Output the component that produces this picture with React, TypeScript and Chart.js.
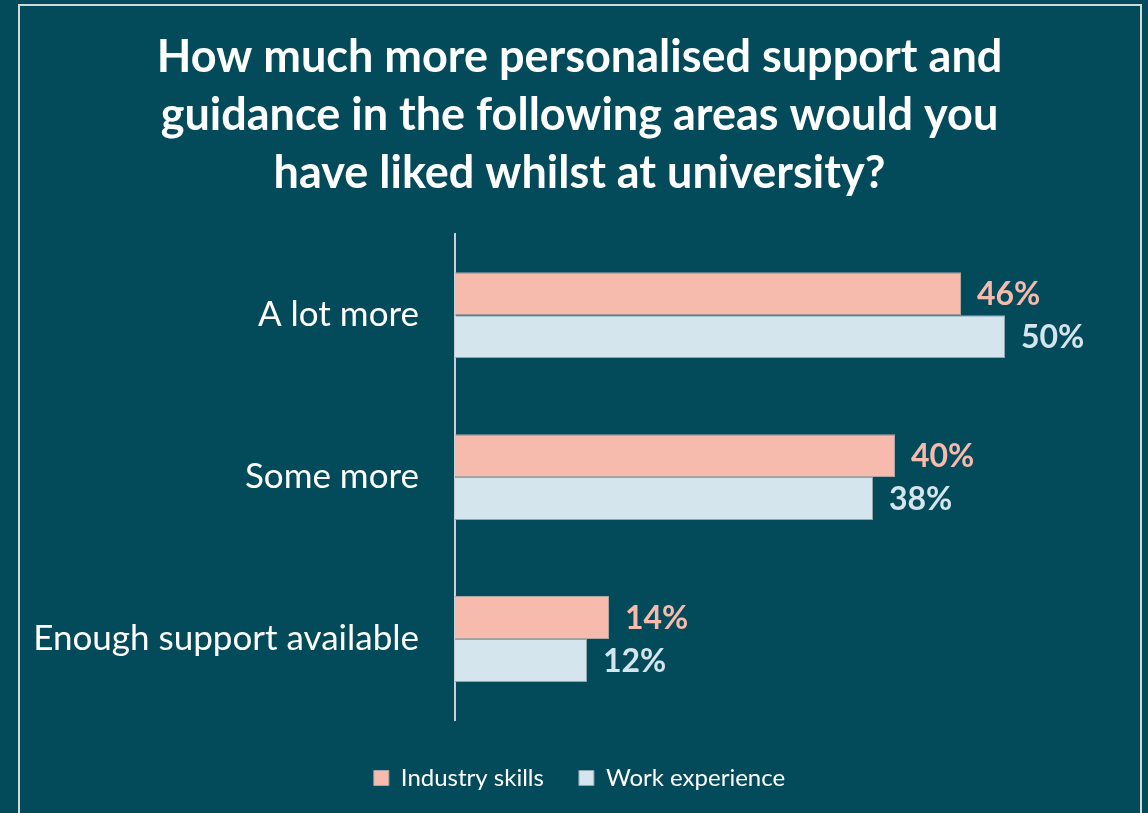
import React, { useEffect, useRef } from "react";
import { Chart, registerables } from "chart.js";

Chart.register(...registerables);

const categories = ["A lot more", "Some more", "Enough support available"];
const industrySkills = [46, 40, 14];
const workExperience = [50, 38, 12];
const seriesNames = ["Industry skills", "Work experience"];
const titleLines = [
  "How much more personalised support and",
  "guidance in the following areas would you",
  "have liked whilst at university?",
];

const BG = "#034A5A";
const PINK = "#F7BBAE";
const BLUE = "#D5E5ED";
const FONT = "Lato, 'Open Sans', sans-serif";

const valueLabels = {
  id: "valueLabels",
  afterDatasetsDraw(chart: any) {
    const ctx = chart.ctx;
    ctx.save();
    chart.data.datasets.forEach((ds: any, i: number) => {
      const meta = chart.getDatasetMeta(i);
      meta.data.forEach((bar: any, j: number) => {
        ctx.font = `bold 32px ${FONT}`;
        ctx.fillStyle = ds.labelColor;
        ctx.textAlign = "left";
        ctx.textBaseline = "middle";
        ctx.fillText(ds.data[j] + "%", bar.x + 16, bar.y + 1);
      });
    });
    ctx.restore();
  },
};

export default function App() {
  const ref = useRef<HTMLCanvasElement>(null);
  useEffect(() => {
    document.body.style.margin = "0";
    const chart = new Chart(ref.current!, {
      type: "bar",
      data: {
        labels: categories,
        datasets: [
          {
            label: seriesNames[0],
            data: industrySkills,
            backgroundColor: PINK,
            borderColor: "#a9a6a3",
            borderWidth: 1,
            labelColor: PINK,
            categoryPercentage: 0.53,
            barPercentage: 1,
          } as any,
          {
            label: seriesNames[1],
            data: workExperience,
            backgroundColor: BLUE,
            borderColor: "#8fa6ae",
            borderWidth: 1,
            labelColor: BLUE,
            categoryPercentage: 0.53,
            barPercentage: 1,
          } as any,
        ],
      },
      options: {
        indexAxis: "y",
        animation: false,
        responsive: false,
        layout: { padding: { left: 0, right: 0, top: 0, bottom: 0 } },
        scales: {
          x: {
            display: true,
            position: "bottom",
            min: 0,
            max: 64,
            grid: { display: false, drawTicks: false },
            border: { display: false },
            ticks: { display: false },
            afterFit(scale: any) {
              scale.height = 11;
            },
          },
          y: {
            grid: { display: false, drawTicks: false },
            border: { display: true, color: "#c9cfd2", width: 2 },
            ticks: {
              color: "#ffffff",
              font: { family: FONT, size: 35 },
              padding: 36,
            },
            afterFit(scale: any) {
              scale.width = 455;
            },
          },
        },
        plugins: {
          title: {
            display: true,
            text: titleLines,
            color: "#ffffff",
            font: { family: FONT, size: 45, weight: "bold", lineHeight: 1.29 },
            padding: { top: 28, bottom: 32 },
          },
          legend: {
            display: true,
            position: "bottom",
            labels: {
              color: "#ffffff",
              font: { family: FONT, size: 24 },
              boxWidth: 15,
              boxHeight: 15,
              padding: 35,
            },
          },
          tooltip: { enabled: false },
        },
      },
      plugins: [valueLabels],
    });
    return () => chart.destroy();
  }, []);
  return (
    <div style={{ position: "relative", width: 1148, height: 813, background: BG, overflow: "hidden" }}>
      <canvas ref={ref} width={1159} height={800} style={{ position: "absolute", left: 0, top: 0 }} />
      <div
        style={{
          position: "absolute",
          left: 18,
          top: 4,
          width: 1120,
          height: 900,
          border: "2px solid #d3d8d9",
          pointerEvents: "none",
        }}
      />
    </div>
  );
}
